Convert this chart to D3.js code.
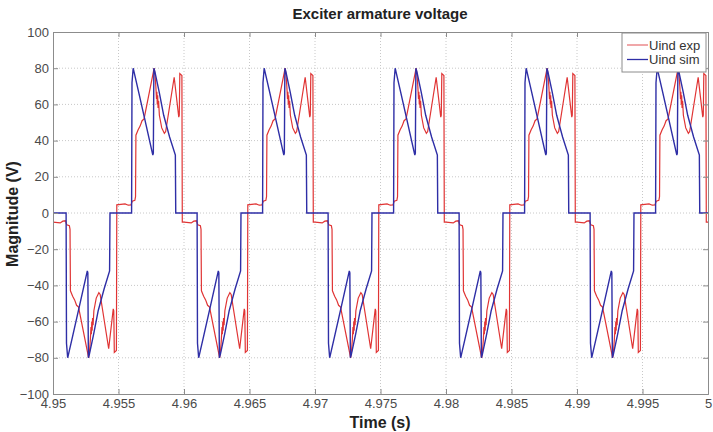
<!DOCTYPE html>
<html>
<head>
<meta charset="utf-8">
<script src="https://cdn.jsdelivr.net/npm/d3@7"></script>
<style>
  body { margin: 0; background: #fff; }
  svg text { font-family: "Liberation Sans", Arial, sans-serif; }
</style>
</head>
<body>
<div id="chart"></div>
<script>
// tick values
var xTicks = [4.95, 4.955, 4.96, 4.965, 4.97, 4.975, 4.98, 4.985, 4.99, 4.995, 5];
var yTicks = [-100, -80, -60, -40, -20, 0, 20, 40, 60, 80, 100];

// the waveform repeats every 10 ms, these are the cycle starts (s)
var cycleStarts = [4.95, 4.96, 4.97, 4.98, 4.99];

// Uind sim : one cycle, time offset (ms) and voltage (V)
var simMs = [0, 1.00, 1.03, 1.12, 1.5, 2.0, 2.62, 2.66, 2.70, 2.78, 3.1, 3.45, 3.9, 4.32, 4.35,
             6.00, 6.03, 6.12, 6.5, 7.0, 7.62, 7.66, 7.70, 7.78, 8.1, 8.45, 8.9, 9.34, 9.37, 10];
var simV  = [0, 0, -72, -80, -68, -52, -32, -33, -80, -78, -67, -54, -42, -32, 0,
             0, 72, 80, 68, 52, 32, 33, 80, 78, 67, 54, 42, 32, 0, 0];

// Uind exp : one cycle, time offset (ms) and voltage (V)
var expMs = [0, 0.55, 0.75, 0.95, 1.05, 1.25, 1.30, 1.33, 1.5, 1.65, 1.8, 1.95,
             2.72, 2.78, 2.85, 2.9, 2.93, 2.96, 2.99, 3.02, 3.06, 3.12, 3.3, 3.5, 3.6,
             4.25, 4.6, 4.64, 4.68, 4.84, 4.87,
             5.5, 5.75, 5.95, 6.05, 6.25, 6.30, 6.33, 6.5, 6.65, 6.8, 6.95,
             7.72, 7.78, 7.85, 7.9, 7.93, 7.96, 7.99, 8.02, 8.06, 8.12, 8.3, 8.5, 8.6,
             9.25, 9.6, 9.64, 9.68, 9.84, 9.87, 10];
var expV  = [-5, -5.5, -4.5, -4.3, -6.5, -7, -9, -43, -46, -48, -51, -52,
             -80, -77, -70, -63, -67, -60, -65, -58, -62, -54, -47, -44, -45,
             -75, -53, -54, -77, -76, 4.5,
             5, 4.3, 4.5, 6.5, 7, 9, 43, 46, 48, 51, 52,
             80, 77, 70, 63, 67, 60, 65, 58, 62, 54, 47, 44, 45,
             75, 53, 54, 77, 76, -5, -5];

function buildSeries(ms, v) {
    var pts = [];
    cycleStarts.forEach(function (t0) {
        for (var i = 0; i < ms.length; i++) {
            pts.push([t0 + ms[i] / 1000, v[i]]);
        }
    });
    return pts;
}

var expData = buildSeries(expMs, expV);
var simData = buildSeries(simMs, simV);

var W = 713, H = 432;
var plotL = 53, plotR = 708, plotT = 32, plotB = 394;

var svg = d3.select("#chart").append("svg")
    .attr("width", W)
    .attr("height", H);

var x = d3.scaleLinear().domain([4.95, 5]).range([plotL, plotR]);
var y = d3.scaleLinear().domain([-100, 100]).range([plotB, plotT]);

// grid
var grid = svg.append("g").attr("class", "grid");
grid.selectAll(".gx").data(xTicks.slice(1, -1)).enter().append("line")
    .attr("x1", function (d) { return x(d); })
    .attr("x2", function (d) { return x(d); })
    .attr("y1", plotT).attr("y2", plotB)
    .attr("stroke", "#c8c8c8").attr("stroke-dasharray", "1,2");
grid.selectAll(".gy").data(yTicks.slice(1, -1)).enter().append("line")
    .attr("y1", function (d) { return y(d); })
    .attr("y2", function (d) { return y(d); })
    .attr("x1", plotL).attr("x2", plotR)
    .attr("stroke", "#c8c8c8").attr("stroke-dasharray", "1,2");

// lines
var line = d3.line()
    .x(function (d) { return x(d[0]); })
    .y(function (d) { return y(d[1]); });

svg.append("path").datum(expData)
    .attr("d", line)
    .attr("fill", "none")
    .attr("stroke", "#e03434")
    .attr("stroke-width", 1.2);

svg.append("path").datum(simData)
    .attr("d", line)
    .attr("fill", "none")
    .attr("stroke", "#2e2ea6")
    .attr("stroke-width", 1.4);

// axes
var fmt = function (d) { return String(+d.toFixed(3)); };

var xAxis = svg.append("g")
    .attr("transform", "translate(0," + plotB + ")")
    .call(d3.axisBottom(x).tickValues(xTicks).tickFormat(fmt).tickSize(-5).tickPadding(5));
var yAxis = svg.append("g")
    .attr("transform", "translate(" + plotL + ",0)")
    .call(d3.axisLeft(y).tickValues(yTicks).tickSize(-5).tickPadding(4));
var xTop = svg.append("g")
    .attr("transform", "translate(0," + plotT + ")")
    .call(d3.axisTop(x).tickValues(xTicks).tickFormat("").tickSize(-5));
var yRight = svg.append("g")
    .attr("transform", "translate(" + plotR + ",0)")
    .call(d3.axisRight(y).tickValues(yTicks).tickFormat("").tickSize(-5));

[xAxis, yAxis, xTop, yRight].forEach(function (g) {
    g.selectAll("path, line").attr("stroke", "#8c8c8c");
    g.selectAll("text")
        .attr("fill", "#4a4a4a")
        .style("font-size", "13px");
});

// legend
var legend = svg.append("g").attr("class", "legend");
legend.append("rect")
    .attr("x", 622).attr("y", 33)
    .attr("width", 84).attr("height", 39)
    .attr("fill", "#fff")
    .attr("stroke", "#8c8c8c");
var entries = [["Uind exp", "#e8787a"], ["Uind sim", "#2e2ea6"]];
entries.forEach(function (e, i) {
    var ly = 45 + i * 14.5;
    legend.append("line")
        .attr("x1", 627).attr("x2", 648)
        .attr("y1", ly).attr("y2", ly)
        .attr("stroke", e[1]).attr("stroke-width", 1.3);
    legend.append("text")
        .attr("x", 649).attr("y", ly + 4.5)
        .attr("fill", "#333")
        .style("font-size", "13px")
        .text(e[0]);
});

// title and axis labels
svg.append("text")
    .attr("x", 380).attr("y", 19)
    .attr("text-anchor", "middle")
    .attr("fill", "#222")
    .style("font-size", "15px")
    .style("font-weight", "bold")
    .text("Exciter armature voltage");

svg.append("text")
    .attr("x", 380).attr("y", 428)
    .attr("text-anchor", "middle")
    .attr("fill", "#222")
    .style("font-size", "16px")
    .style("font-weight", "bold")
    .text("Time (s)");

svg.append("text")
    .attr("transform", "translate(18," + 214 + ") rotate(-90)")
    .attr("text-anchor", "middle")
    .attr("fill", "#222")
    .style("font-size", "16px")
    .style("font-weight", "bold")
    .text("Magnitude (V)");
</script>
</body>
</html>
